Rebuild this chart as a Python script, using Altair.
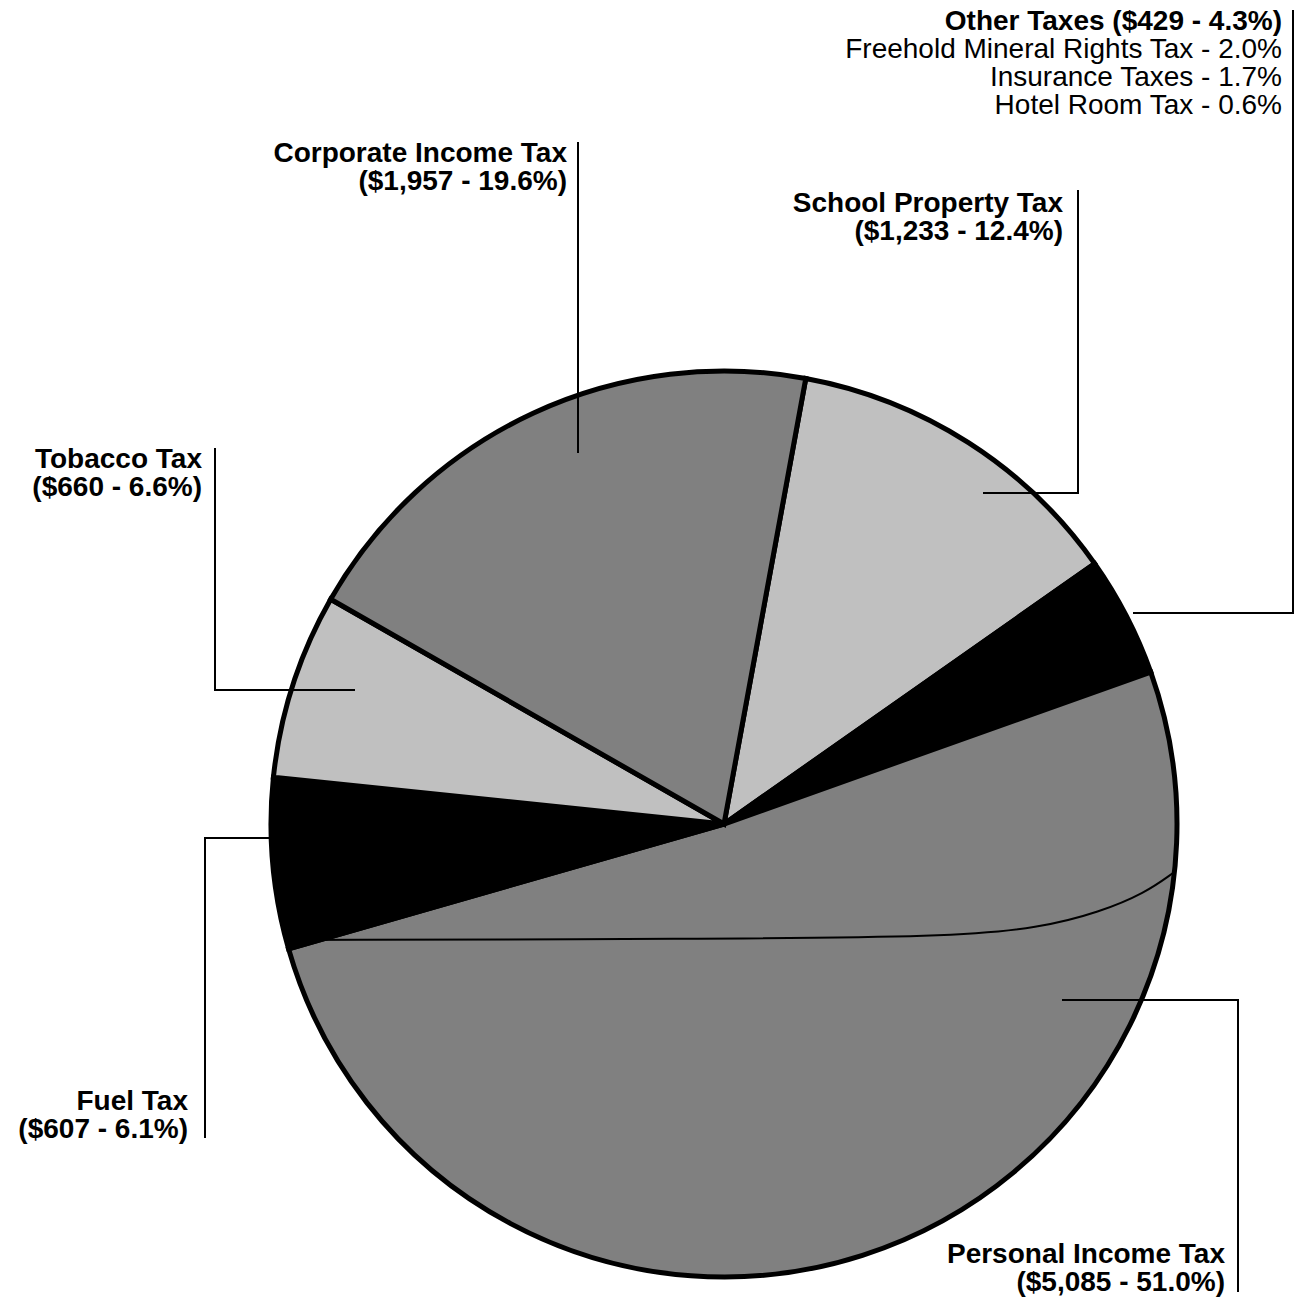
import math
import altair as alt
import pandas as pd

# ---- data ----
categories = ["School Property Tax", "Other Taxes", "Personal Income Tax",
              "Fuel Tax", "Tobacco Tax", "Corporate Income Tax"]
values = [1233, 429, 5085, 607, 660, 1957]
percents = [12.4, 4.3, 51.0, 6.1, 6.6, 19.6]
other_breakdown = ["Freehold Mineral Rights Tax - 2.0%",
                   "Insurance Taxes - 1.7%",
                   "Hotel Room Tax - 0.6%"]

# ---- styles / layout ----
fills = ["#c0c0c0", "#000000", "#808080", "#000000", "#c0c0c0", "#808080"]
W, H = 1296, 1300
CX, CY, R = 724, 824, 453
START = math.radians(10.4)
FONT = "Liberation Sans"
FS = 28

# label anchor (right edge x, first baseline y) per category
label_x = [1063, 1282, 1225, 188, 202, 567]
label_y = [212, 30, 1263, 1110, 468, 162]
line_gap = 28

# leader polylines per category
leader_x = [[983, 1078, 1078], [1133, 1293, 1293], [1062, 1238, 1238],
            [270, 205, 205], [355, 215, 215], [578, 578]]
leader_y = [[493, 493, 190], [613, 613, 10], [1000, 1000, 1292],
            [838, 838, 1138], [690, 690, 448], [453, 142]]

# shading seam inside the personal income slice
seam_x = [290, 700, 950, 1040, 1100, 1145, 1173]
seam_y = [940, 939, 937, 928, 912, 893, 873]


def money(v):
    return f"${v:,}"


pie_df = pd.DataFrame({"cat": categories, "value": values,
                       "order": list(range(len(categories)))})

text_rows = []
for i, c in enumerate(categories):
    if c == "Other Taxes":
        lines = [(f"{c} ({money(values[i])} - {percents[i]}%)", "bold")]
        lines += [(t, "normal") for t in other_breakdown]
    else:
        lines = [(c, "bold"), (f"({money(values[i])} - {percents[i]}%)", "bold")]
    for k, (t, w) in enumerate(lines):
        text_rows.append({"cat": c, "text": t, "weight": w,
                          "x": label_x[i], "y": label_y[i] + k * line_gap})
text_df = pd.DataFrame(text_rows)

lead_rows = []
for i, c in enumerate(categories):
    for k, (x, y) in enumerate(zip(leader_x[i], leader_y[i])):
        lead_rows.append({"cat": c, "seq": k, "x": x, "y": y})
lead_df = pd.DataFrame(lead_rows)

seam_df = pd.DataFrame({"x": seam_x, "y": seam_y, "seq": range(len(seam_x))})

xs = alt.Scale(domain=[0, W], range=[0, W])
ys = alt.Scale(domain=[0, H], reverse=True)
X = alt.X("x:Q", scale=xs, axis=None)
Y = alt.Y("y:Q", scale=ys, axis=None)

pie = alt.Chart(pie_df).mark_arc(
    outerRadius=R, stroke="black", strokeWidth=5, strokeJoin="miter"
).encode(
    theta=alt.Theta("value:Q", stack=True,
                    scale=alt.Scale(range=[START, START + 2 * math.pi])),
    color=alt.Color("cat:N", scale=alt.Scale(domain=categories, range=fills),
                    legend=None),
    order=alt.Order("order:Q"),
    x=alt.value(CX), y=alt.value(CY),
)

seam = alt.Chart(seam_df).mark_line(
    color="black", strokeWidth=2, interpolate="basis"
).encode(x=X, y=Y, order="seq:Q")

leaders = alt.Chart(lead_df).mark_line(color="black", strokeWidth=2).encode(
    x=X, y=Y, detail="cat:N", order="seq:Q")

bold_text = alt.Chart(text_df).transform_filter(
    alt.datum.weight == "bold"
).mark_text(align="right", baseline="alphabetic", font=FONT, fontSize=FS,
            fontWeight="bold", color="black").encode(x=X, y=Y, text="text:N")

normal_text = alt.Chart(text_df).transform_filter(
    alt.datum.weight == "normal"
).mark_text(align="right", baseline="alphabetic", font=FONT, fontSize=FS,
            fontWeight="normal", color="black").encode(x=X, y=Y, text="text:N")

chart = alt.layer(pie, seam, leaders, bold_text, normal_text).properties(
    width=W, height=H, padding=0, autosize=alt.AutoSizeParams(type="none"),
    background="white"
).configure_view(stroke=None)

chart.save("out.html", embed_options={"renderer": "svg", "actions": False})
